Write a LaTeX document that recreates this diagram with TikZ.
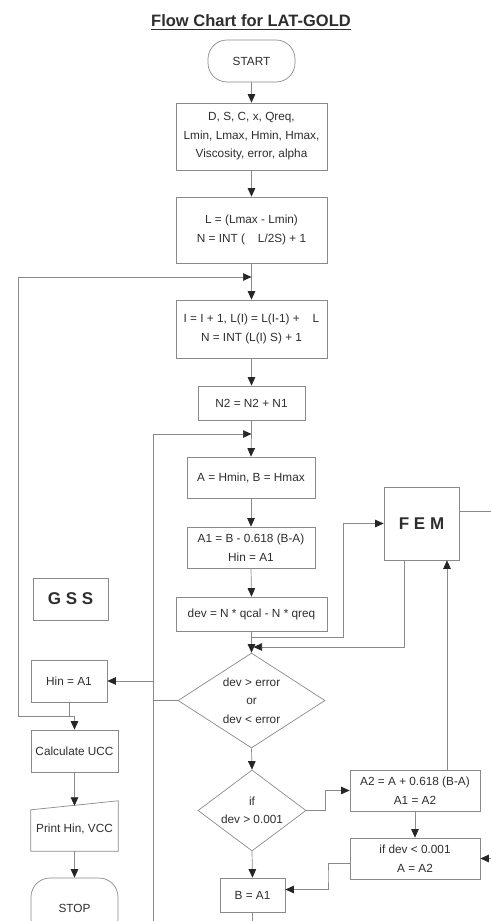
\documentclass[tikz,border=0pt]{standalone}
\usepackage{fontspec}
\setmainfont{Liberation Sans}
\usetikzlibrary{arrows.meta,shapes.geometric,calc}
\definecolor{ln}{HTML}{8A8A8A}
\definecolor{tx}{HTML}{2E2E2E}
\begin{document}
\begin{tikzpicture}[x=1pt,y=-1pt,
  every node/.style={text=tx, font=\fontsize{11.8}{18.5}\selectfont, align=center, inner sep=0pt},
  box/.style={draw=ln, line width=0.7pt, rectangle},
  term/.style={box, rounded corners=19pt},
  dia/.style={draw=ln, line width=0.7pt, diamond},
  big/.style={font=\fontsize{17}{20}\selectfont\bfseries},
  conn/.style={draw=ln, line width=0.7pt},
  arr/.style={conn, -{Triangle[width=7.5pt,length=8.5pt,color=black!85]}},
]
\fill[white] (0,0) rectangle (491,921);
\useasboundingbox (0,0) rectangle (491,921);

% title
\node[font=\fontsize{16.5}{20}\selectfont\bfseries, anchor=base] (title) at (251,26.5) {Flow Chart for LAT-GOLD};
\draw[tx, line width=1pt] ($(title.base west)+(0,3)$) -- ($(title.base east)+(0,3)$);

% main column
\node[term, minimum width=87, minimum height=42] (start) at (251.5,61) {START};
\node[box, minimum width=151, minimum height=67] (in) at (251.5,136.5) {D, S, C, x, Qreq,\\ Lmin, Lmax, Hmin, Hmax,\\ Viscosity, error, alpha};
\node[box, minimum width=151, minimum height=66] (lcalc) at (251.5,230) {L = (Lmax - Lmin)\\ N = INT (\hspace{1.1em}L/2S) + 1};
\node[box, minimum width=151, minimum height=58] (iter) at (251.5,329) {I = I + 1, L(I) = L(I-1) +\hspace{1.1em}L\\ N = INT (L(I) S) + 1};
\node[box, minimum width=107, minimum height=34] (ntwo) at (251.5,403) {N2 = N2 + N1};
\node[box, minimum width=128, minimum height=41] (ab) at (251,477.5) {A = Hmin, B = Hmax};
\node[box, minimum width=128, minimum height=41] (aone) at (251,547.5) {A1 = B - 0.618 (B-A)\\ Hin = A1};
\node[box, minimum width=151, minimum height=34] (dev) at (251.5,614) {dev = N * qcal - N * qreq};
\node[dia, aspect=1.55, minimum width=147, minimum height=95] (d1) at (251.5,700.5) {dev > error\\ or\\ dev < error};
\node[dia, aspect=1.33, minimum width=108, minimum height=81] (d2) at (252,810.5) {if\\ dev > 0.001};
\node[box, minimum width=65, minimum height=34] (ba1) at (252.5,895) {B = A1};

% right column
\node[box, big, minimum width=75, minimum height=73] (fem) at (421.5,523.5) {F E M};
\node[box, minimum width=130, minimum height=41] (a2) at (415,790.5) {A2 = A + 0.618 (B-A)\\ A1 = A2};
\node[box, minimum width=130, minimum height=41] (ifb) at (415,858.5) {if dev < 0.001\\ A = A2};

% left column
\node[box, big, minimum width=75, minimum height=42] (gss) at (70.5,599) {G S S};
\node[box, minimum width=76, minimum height=42] (hin) at (69,681) {Hin = A1};
\node[box, minimum width=87, minimum height=42] (calc) at (74.5,751) {Calculate UCC};
\node[minimum width=87, minimum height=45] (prt) at (74.5,828.5) {Print Hin, VCC};
\draw[conn] (prt.south west) -- (prt.south east) -- ($(prt.north east)+(0,-5)$) -- ($(prt.north west)+(0,4)$) -- cycle;
\node[term, minimum width=87, minimum height=60] (stop) at (74.5,908) {STOP};

% coordinates
\coordinate (j1) at (251.5,277);
\coordinate (lp1) at (18,277);
\coordinate (lp2) at (18,716);
\coordinate (j2) at (251.5,434);
\coordinate (v1top) at (153,434);
\coordinate (v1bot) at (153,921);
\coordinate (j3) at (251.5,637);
\coordinate (fj) at (343,637);
\coordinate (fs) at ($(fem.south)+(-17.5,0)$);
\coordinate (m1) at (253.5,647);
\coordinate (fe) at ($(fem.east)+(0,-12.5)$);
\coordinate (fout) at (491,511);
\coordinate (dj) at (325,810.5);
\coordinate (a2n) at ($(a2.north)+(32,0)$);
\coordinate (rin) at (491,858.5);
\coordinate (ifbw) at ($(ifb.west)+(0,4.5)$);
\coordinate (bj) at (328,876);
\coordinate (ba1e) at ($(ba1.east)+(0,-5.5)$);
\coordinate (bout) at (252.5,921);

% connectors
\draw[arr] (start.south) -- (in.north);
\draw[arr] (in.south) -- (lcalc.north);
\draw[conn] (lcalc.south) -- (j1);
\draw[arr] (j1) -- (iter.north);
\draw[arr] (lp2) -- (lp1) -- (j1);
\draw[arr] (iter.south) -- (ntwo.north);
\draw[conn] (ntwo.south) -- (j2);
\draw[arr] (j2) -- (ab.north);
\draw[arr] (v1bot) -- (v1top) -- (j2);
\draw[arr] (ab.south) -- (aone.north);
\draw[arr] (aone.south) -- (dev.north);
\draw[conn] (dev.south) -- (j3);
\draw[arr] (j3) -- (d1.north);
\draw[arr] (j3) -- (fj) |- (fem.west);
\draw[arr] (fs) |- (m1);
\draw[conn] (fe) -- (fout);
\draw[conn] (d1.west) -- (d1.west -| v1top);
\draw[arr] (hin.east -| v1top) -- (hin.east);
\draw[conn] (hin.south) -- (hin.south |- lp2);
\draw[arr] (lp2) -| (calc.north);
\draw[arr] (calc.south) -- (prt.north);
\draw[arr] (prt.south) -- (stop.north);
\draw[arr] (d1.south) -- (d2.north);
\draw[arr] (d2.east) -- (dj) |- (a2.west);
\draw[arr] (a2.south) -- (ifb.north);
\draw[arr] (a2n) -- (a2n |- fem.south);
\draw[arr] (rin) -- (ifb.east);
\draw[arr] (ifbw) -| (bj) |- (ba1e);
\draw[arr] (d2.south) -- (ba1.north);
\draw[conn] (ba1.south) -- (bout);
\end{tikzpicture}
\end{document}
